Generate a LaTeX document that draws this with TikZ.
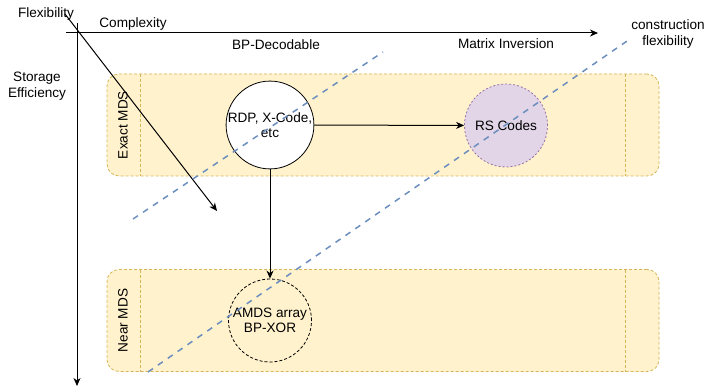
\documentclass[tikz,border=0pt]{standalone}
\usepackage{fontspec}
\setmainfont{Liberation Sans}
\usetikzlibrary{arrows.meta}
\definecolor{ylfill}{HTML}{FFF2CC}
\definecolor{ylline}{HTML}{D6B656}
\definecolor{pufill}{HTML}{E1D5E7}
\definecolor{puline}{HTML}{9673A6}
\definecolor{blline}{HTML}{6C8EBF}
\begin{document}
\begin{tikzpicture}[x=1pt,y=-1pt,
  every node/.style={font=\fontsize{13.6}{15.5}\selectfont, inner sep=0pt},
  lane/.style={draw=ylline, fill=ylfill, dash pattern=on 3pt off 2pt, line width=0.8pt, rounded corners=12pt, minimum width=552pt, minimum height=102pt},
  divider/.style={draw=ylline, dash pattern=on 3pt off 2pt, line width=0.8pt},
  code/.style={circle, minimum size=83pt, align=center, line width=0.8pt},
  ax/.style={draw=black, line width=1pt, -{Stealth[length=8pt,width=7pt,inset=2.5pt]}},
  cut/.style={draw=blline, line width=1.5pt, dash pattern=on 6pt off 6pt}]
\useasboundingbox (0,0) rectangle (709,390);
% lanes
\node[lane] (exact) at (383,125) {};
\node[lane] (near) at (383,320.5) {};
\draw[divider] (140,74) -- (140,176);
\draw[divider] (625,74) -- (625,176);
\draw[divider] (140,269.5) -- (140,371.5);
\draw[divider] (625,269.5) -- (625,371.5);
\node[rotate=90] (exactlbl) at (123,125) {Exact MDS};
\node[rotate=90] (nearlbl) at (123,320.5) {Near MDS};
% code circles
\node[code, draw=black, fill=white] (rdp) at (270,125) {RDP, X-Code,\\etc};
\node[code, draw=puline, fill=pufill, dash pattern=on 2pt off 2pt] (rs) at (506,125.5) {RS Codes};
\node[code, draw=black, dash pattern=on 3pt off 2pt] (amds) at (270,320.5) {AMDS array\\BP-XOR};
% axes
\coordinate (hstart) at (66,33);
\coordinate (hend) at (598,33);
\coordinate (vstart) at (77,23);
\coordinate (vend) at (77,386);
\coordinate (dstart) at (65,14);
\coordinate (dend) at (217,211);
\draw[ax] (hstart) -- (hend);
\draw[ax] (vstart) -- (vend);
\draw[ax] (dstart) -- (dend);
% connectors
\draw[ax] (rdp) -- (rs);
\draw[ax] (rdp) -- (amds);
% blue cut lines
\coordinate (c1a) at (133,219);
\coordinate (c1b) at (383,52);
\coordinate (c2a) at (148,372);
\coordinate (c2b) at (630,39);
\draw[cut] (c1a) -- (c1b);
\draw[cut] (c2a) -- (c2b);
% labels
\node (flex) at (46,14) {Flexibility};
\node (cplx) at (133,24) {Complexity};
\node (bpd) at (276,45) {BP-Decodable};
\node (minv) at (506,44) {Matrix Inversion};
\node[align=center] (cflex) at (668,34) {construction\\flexibility};
\node[align=center] (stor) at (37,86) {Storage\\Efficiency};
\end{tikzpicture}
\end{document}
